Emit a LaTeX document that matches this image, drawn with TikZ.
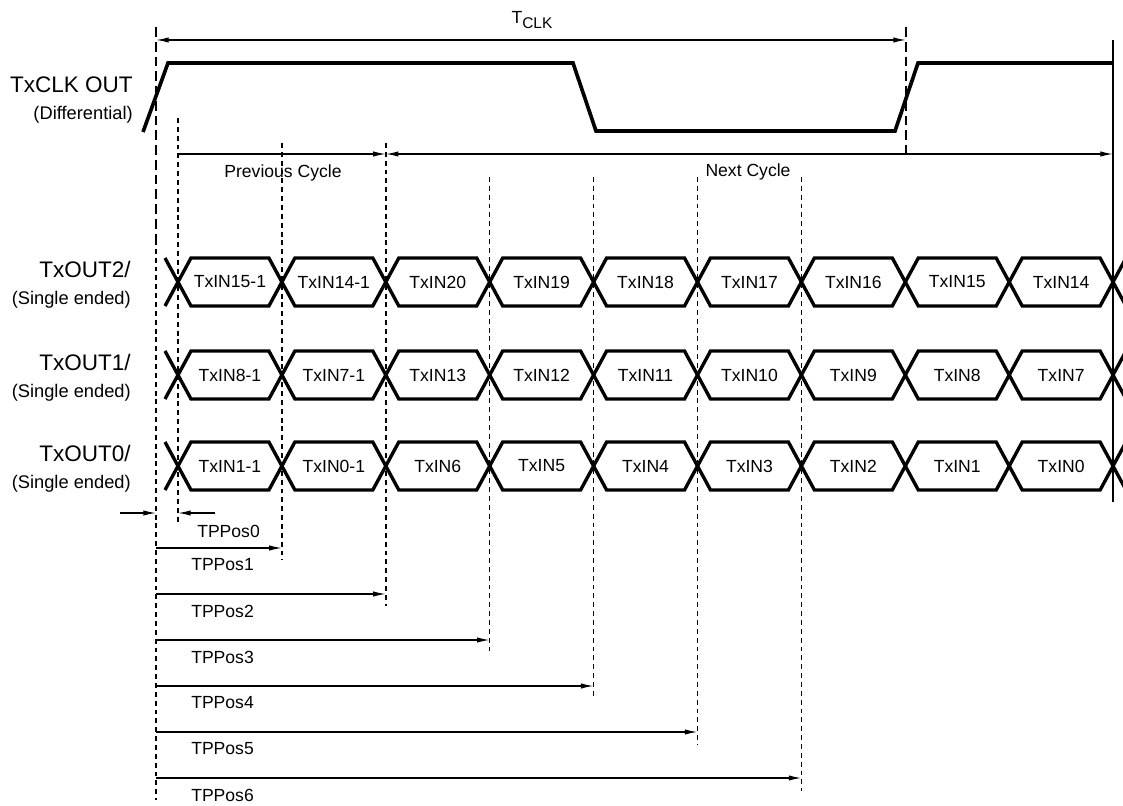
\documentclass[tikz,border=0pt]{standalone}
\usepackage{fontspec}
\setmainfont{Liberation Sans}
\usepackage{tikz}
\usetikzlibrary{arrows.meta}

\tikzset{
  wave/.style={line width=2.6pt, line join=miter},
  bus/.style={line width=2.4pt, line join=miter},
  guide/.style={line width=1pt, dash pattern=on 7pt off 3.5pt},
  tick/.style={line width=1pt, dash pattern=on 3.5pt off 2.8pt},
  dim/.style={line width=0.9pt, -{Latex[length=9pt,width=3.8pt]}},
  dimboth/.style={line width=0.9pt, {Latex[length=9pt,width=3.8pt]}-{Latex[length=9pt,width=3.8pt]}},
  sig/.style={font=\fontsize{16}{18}\selectfont, anchor=east, inner sep=0pt},
  sub/.style={font=\fontsize{13}{15}\selectfont, anchor=east, inner sep=0pt},
  cell/.style={font=\fontsize{12.5}{14}\selectfont, inner sep=0pt},
  lbl/.style={font=\fontsize{12.5}{14}\selectfont, inner sep=0pt}
}

\begin{document}
\begin{tikzpicture}[x=0.025cm, y=-0.025cm]
  \useasboundingbox (0,0) rectangle (1123,806);
  \foreach \i in {0,...,9}
     \coordinate (c\i) at ({178+103.9*\i},0);

  % clock
  \draw[wave] (143,132) -- (168,63) -- (573,63) -- (596,131) -- (895,131) -- (918,63) -- (1113,63);
  \node[sig] (clk) at (133,85) {TxCLK OUT};
  \node[sub] (clkdiff) at (133,115) {(Differential)};

  % guides
  \coordinate (t0) at (156,27);
  \coordinate (t1) at (906,27);
  \draw[guide] (t0) -- (156,240);
  \draw[tick] (156,240) -- (156,800);
  \draw[guide] (t1) -- (906,155);
  \draw[line width=0.9pt] (1113,40) -- (1113,502);
  \foreach \i/\a/\b in {0/118/525, 1/143/560, 2/143/606, 3/177/652, 4/177/698, 5/177/744, 6/177/791}
     \draw[tick] (c\i |- 0,\a) -- (c\i |- 0,\b);

  \draw[dimboth] (t0 |- 0,40) -- (t1 |- 0,40);
  \node[lbl] (tclk) at (532,20) {T\raisebox{-0.45ex}{\fontsize{11}{12}\selectfont CLK}};

  \draw[dim] (c0 |- 0,154) -- (c2 |- 0,154);
  \draw[dimboth] (c2 |- 0,154) -- (1113,154);
  \node[lbl] (prev) at (283,173) {Previous Cycle};
  \node[lbl] (next) at (748,172) {Next Cycle};

  % data lines
  \foreach \r/\y/\cells in {2/282/{TxIN15-1,TxIN14-1,TxIN20,TxIN19,TxIN18,TxIN17,TxIN16,TxIN15,TxIN14},
                            1/375/{TxIN8-1,TxIN7-1,TxIN13,TxIN12,TxIN11,TxIN10,TxIN9,TxIN8,TxIN7},
                            0/466/{TxIN1-1,TxIN0-1,TxIN6,TxIN5,TxIN4,TxIN3,TxIN2,TxIN1,TxIN0}} {
     \node[sig] (out\r) at (131,\y-13) {TxOUT\r/};
     \node[sub] (se\r) at (131,\y+18) {(Single ended)};
     \draw[bus] (165,\y-24) -- (178,\y) -- (165,\y+24);
     \draw[bus] (1126,\y-24) -- (1113,\y) -- (1126,\y+24);
     \foreach \t [count=\k from 0] in \cells {
        \pgfmathsetmacro\ca{178+103.9*\k}
        \pgfmathsetmacro\cb{\ca+103.9}
        \draw[bus] (\ca,\y) -- (\ca+13,\y-24) -- (\cb-13,\y-24) -- (\cb,\y) -- (\cb-13,\y+24) -- (\ca+13,\y+24) -- cycle;
        \node[cell] (d\r-\k) at ({(\ca+\cb)/2},\y) {\t};
     }
  }

  % skew positions
  \coordinate (p0) at (156,513);
  \draw[dim] (120,513) -- (p0);
  \draw[dim] (215,513) -- (c0 |- p0);
  \node[lbl, anchor=west] (pos0) at (197,531) {TPPos0};
  \foreach \k in {1,...,6} {
     \pgfmathsetmacro\yy{548+46*(\k-1)}
     \draw[dim] (156,\yy) -- (c\k |- 0,\yy);
     \node[lbl, anchor=west] (pos\k) at (191,\yy+17) {TPPos\k};
  }
\end{tikzpicture}
\end{document}
